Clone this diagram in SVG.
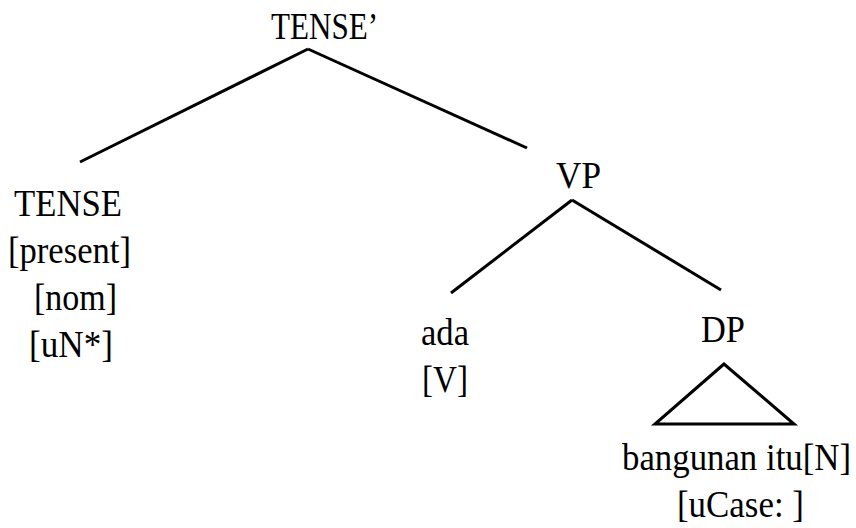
<svg xmlns="http://www.w3.org/2000/svg" width="856" height="528" viewBox="0 0 856 528">
<style>
.t{font-size:37px;fill:#000}
.e{stroke:#000;stroke-width:3;fill:none;stroke-linecap:butt}
</style>
<rect width="856" height="528" fill="#fff"/>
<g id="connectors">
<line class="e" x1="308" y1="49" x2="80" y2="162"/>
<line class="e" x1="308" y1="49" x2="527" y2="148"/>
<line class="e" x1="572" y1="200" x2="451" y2="293"/>
<line class="e" x1="572" y1="200" x2="721" y2="290"/>
<polygon class="e" points="724,364 655,424 794,424"/>
</g>
<g font-family="Liberation Serif, DejaVu Serif, Times New Roman, serif" class="t">
<g id="tense-bar"><text x="271" y="39" textLength="107" lengthAdjust="spacingAndGlyphs">TENSE’</text></g>
<g id="tense">
<text x="14" y="216" textLength="108" lengthAdjust="spacingAndGlyphs">TENSE</text>
<text x="8" y="263" textLength="123" lengthAdjust="spacingAndGlyphs">[present]</text>
<text x="34" y="310" textLength="83" lengthAdjust="spacingAndGlyphs">[nom]</text>
<text x="29" y="357" textLength="84" lengthAdjust="spacingAndGlyphs">[uN*]</text>
</g>
<g id="vp"><text x="556" y="188" textLength="45" lengthAdjust="spacingAndGlyphs">VP</text></g>
<g id="ada">
<text x="421" y="345" textLength="48" lengthAdjust="spacingAndGlyphs">ada</text>
<text x="422" y="392" textLength="46" lengthAdjust="spacingAndGlyphs">[V]</text>
</g>
<g id="dp"><text x="701" y="342" textLength="44" lengthAdjust="spacingAndGlyphs">DP</text></g>
<g id="bangunan">
<text x="622" y="470" textLength="229" lengthAdjust="spacingAndGlyphs">bangunan itu[N]</text>
<text x="677" y="517" textLength="127" lengthAdjust="spacingAndGlyphs">[uCase: ]</text>
</g>
</g>
</svg>
